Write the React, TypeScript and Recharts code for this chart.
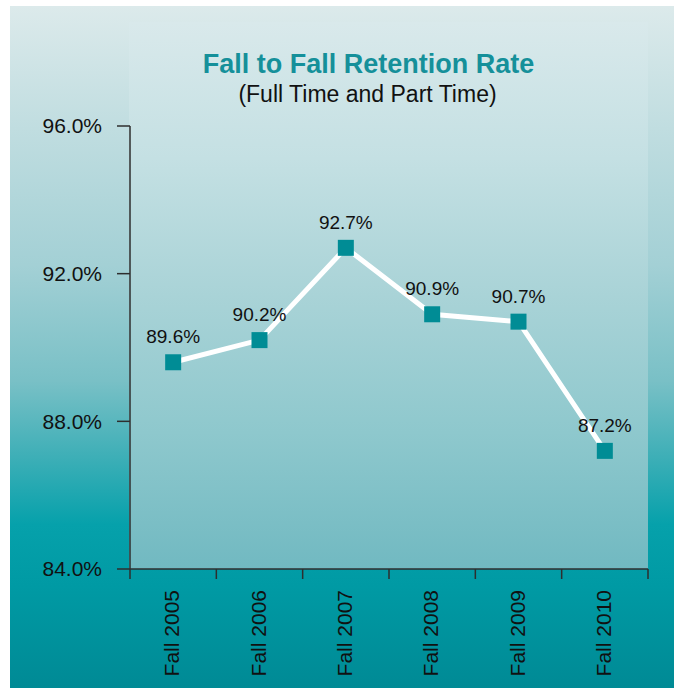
import React from 'react';
import { LineChart, Line, XAxis, YAxis, LabelList } from 'recharts';

const categories = ['Fall 2005', 'Fall 2006', 'Fall 2007', 'Fall 2008', 'Fall 2009', 'Fall 2010'];
const retention = [89.6, 90.2, 92.7, 90.9, 90.7, 87.2];
const yTicks = [84, 88, 92, 96];
const titleText = 'Fall to Fall Retention Rate';
const subtitleText = '(Full Time and Part Time)';

const data = categories.map((c, i) => ({ label: c, value: retention[i] }));

const FONT = '"Liberation Sans", Arial, Helvetica, sans-serif';
const AXIS = '#2e2e2e';
const TEAL = '#008c95';

const XTick = (props: any) => {
  const { x, y, payload, index, width, visibleTicksCount } = props;
  const half = width / visibleTicksCount / 2;
  const isLast = index === visibleTicksCount - 1;
  const ty = y + 21;
  const tx = x + 6;
  return (
    <g>
      <line x1={x - half} y1={y} x2={x - half} y2={y + 10} stroke={AXIS} strokeWidth={1.5} />
      {isLast && <line x1={x + half} y1={y} x2={x + half} y2={y + 10} stroke={AXIS} strokeWidth={1.5} />}
      <text
        x={tx}
        y={ty}
        textAnchor="end"
        transform={`rotate(-90, ${tx}, ${ty})`}
        fontSize={21}
        fontFamily={FONT}
        fill="#111"
      >
        {payload.value}
      </text>
    </g>
  );
};

const SquareDot = (props: any) => {
  const { cx, cy } = props;
  if (cx == null || cy == null) return null;
  return <rect x={cx - 8} y={cy - 8} width={16} height={16} fill={TEAL} />;
};

export default function App() {
  return (
    <div style={{ position: 'absolute', left: 0, top: 0, width: 674, height: 688, overflow: 'hidden', background: '#fff' }}>
      <div
        style={{
          position: 'absolute',
          left: 10,
          top: 6,
          width: 664,
          height: 682,
          background:
            'linear-gradient(to bottom, #dceaeb 0%, #c0dde0 18%, #a3d0d5 38%, #79c0c6 55%, #3eafb7 66%, #06a1ab 76%, #009aa4 85%, #008a95 100%)',
        }}
      />
      <div
        style={{
          position: 'absolute',
          left: 129,
          top: 22,
          width: 519,
          height: 547,
          background: 'linear-gradient(to bottom, #d9e9eb 0%, #c4e0e3 25%, #a9d3d7 50%, #8ec8cd 75%, #71b9c1 100%)',
        }}
      />
      <svg style={{ position: 'absolute', left: 0, top: 0 }} width={674} height={688}>
        <text x={368.5} y={73} textAnchor="middle" fontSize={27} fontWeight="bold" fontFamily={FONT} fill="#15909a">
          {titleText}
        </text>
        <text x={367.5} y={102} textAnchor="middle" fontSize={23} fontFamily={FONT} fill="#111">
          {subtitleText}
        </text>
      </svg>
      <div style={{ position: 'absolute', left: 0, top: 0 }}>
        <LineChart width={674} height={688} data={data} margin={{ top: 126, right: 26, bottom: 9, left: 0 }}>
          <XAxis
            dataKey="label"
            scale="band"
            height={110}
            axisLine={{ stroke: AXIS, strokeWidth: 1.5 }}
            tickLine={false}
            tickSize={0}
            tickMargin={0}
            interval={0}
            tick={<XTick />}
          />
          <YAxis
            domain={[84, 96]}
            ticks={yTicks}
            width={130}
            allowDataOverflow
            axisLine={{ stroke: AXIS, strokeWidth: 1.5 }}
            tickLine={{ stroke: AXIS, strokeWidth: 1.5 }}
            tickSize={13}
            tickMargin={15}
            tickFormatter={(v: number) => `${v.toFixed(1)}%`}
            tick={{ fontSize: 21, fontFamily: FONT, fill: '#111' }}
          />
          <Line
            type="linear"
            dataKey="value"
            stroke="#ffffff"
            strokeWidth={5}
            dot={<SquareDot />}
            activeDot={false}
            isAnimationActive={false}
          >
            <LabelList
              dataKey="value"
              position="top"
              offset={19}
              formatter={(v: number) => `${v.toFixed(1)}%`}
              style={{ fontSize: 19, fontFamily: FONT, fill: '#111' }}
            />
          </Line>
        </LineChart>
      </div>
    </div>
  );
}
